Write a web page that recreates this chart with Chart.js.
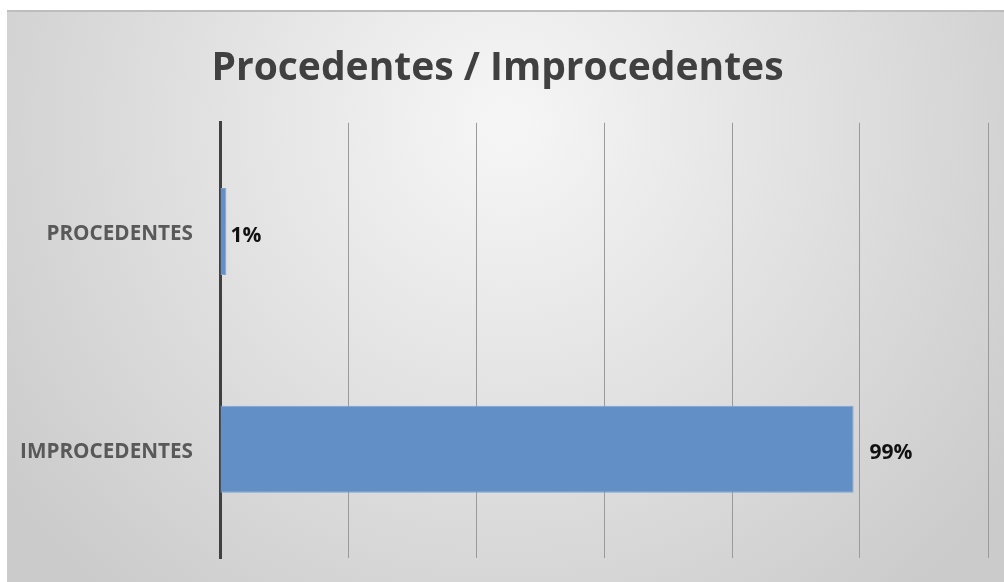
<!DOCTYPE html>
<html lang="pt">
<head>
  <meta charset="UTF-8">
  <title>Procedentes / Improcedentes</title>
  <style>
    body {
      margin: 0;
      background-color: #fff;
    }
    #wrap {
      position: absolute;
      left: 7px;
      top: 10px;
      width: 997px;
      height: 572px;
    }
  </style>
</head>
<body>
  <div id="wrap">
    <canvas id="chart" width="997" height="572"></canvas>
  </div>

  <script src="https://cdn.jsdelivr.net/npm/chart.js"></script>
  <script>
    // chart data
    const categories = ['PROCEDENTES', 'IMPROCEDENTES'];
    const shares = [0.01, 0.99];
    const axisMax = 1.2;
    const axisStep = 0.2;

    // soft grey radial background, like the office chart style
    const backgroundPlugin = {
      id: 'bgGradient',
      beforeDraw(chart) {
        const ctx = chart.ctx;
        const w = chart.width, h = chart.height;
        const g = ctx.createRadialGradient(w * 0.5, h * 0.2, 20, w * 0.5, h * 0.2, w * 0.62);
        g.addColorStop(0, '#f5f5f5');
        g.addColorStop(1, '#cbcbcb');
        ctx.save();
        ctx.fillStyle = g;
        ctx.fillRect(0, 0, w, h);
        ctx.fillStyle = '#bdbdbd';
        ctx.fillRect(0, 0, w, 2);
        ctx.restore();
      }
    };

    // percentage labels at the end of each bar
    const labelOffsets = [4, 16];
    const valueLabels = {
      id: 'valueLabels',
      afterDatasetsDraw(chart) {
        const ctx = chart.ctx;
        const meta = chart.getDatasetMeta(0);
        ctx.save();
        ctx.font = 'bold 21px "Open Sans", sans-serif';
        ctx.fillStyle = '#111';
        ctx.textAlign = 'left';
        ctx.textBaseline = 'middle';
        meta.data.forEach((bar, i) => {
          const txt = Math.round(shares[i] * 100) + '%';
          ctx.fillText(txt, bar.x + labelOffsets[i], bar.y + 4);
        });
        ctx.restore();
      }
    };

    new Chart(document.getElementById('chart').getContext('2d'), {
      type: 'bar',
      data: {
        labels: categories,
        datasets: [{
          data: shares,
          backgroundColor: '#6290c6',
          borderColor: '#7ea4d2',
          borderWidth: 1,
          barPercentage: 0.4,
          categoryPercentage: 1.0
        }]
      },
      options: {
        indexAxis: 'y',
        responsive: false,
        animation: false,
        layout: {
          padding: { top: 0, left: 0, right: 16, bottom: 24 }
        },
        plugins: {
          legend: { display: false },
          tooltip: { enabled: false },
          title: {
            display: true,
            text: 'Procedentes / Improcedentes',
            color: '#404040',
            font: { family: '"Open Sans", sans-serif', size: 39, weight: 'bold', lineHeight: 1.2 },
            padding: { top: 35, bottom: 31 }
          }
        },
        scales: {
          x: {
            min: 0,
            max: axisMax,
            ticks: { display: false, stepSize: axisStep },
            grid: { color: '#9a9a9a', lineWidth: 1, drawTicks: false },
            border: { display: false },
            afterFit(scale) { scale.height = 0; }
          },
          y: {
            grid: { display: false, drawTicks: false },
            border: { display: true, color: '#404040', width: 3 },
            ticks: {
              color: '#595959',
              padding: 27,
              labelOffset: 3,
              font: { family: '"Open Sans", sans-serif', size: 20.7, weight: 'bold' }
            },
            afterFit(scale) {
              scale.width = 213;
              // tick padding would otherwise be added above/below the plot
              scale.paddingTop = 0;
              scale.paddingBottom = 0;
            }
          }
        }
      },
      plugins: [backgroundPlugin, valueLabels]
    });
  </script>
</body>
</html>
